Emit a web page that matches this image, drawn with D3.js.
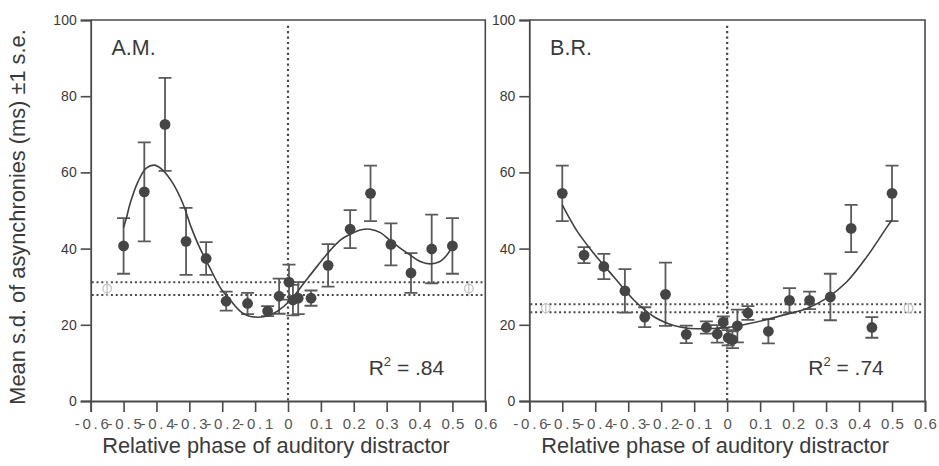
<!DOCTYPE html>
<html>
<head>
<meta charset="utf-8">
<script src="https://cdn.jsdelivr.net/npm/d3@7"></script>
<style>
  html, body { margin: 0; padding: 0; background: #fff; }
  svg { display: block; font-family: "Liberation Sans", Arial, Helvetica, sans-serif; }
</style>
</head>
<body>
<svg id="chart" width="939" height="466"></svg>
<script>
// ---------------- DATA ----------------
const xTicks = [-0.6, -0.5, -0.4, -0.3, -0.2, -0.1, 0, 0.1, 0.2, 0.3, 0.4, 0.5, 0.6];
const yTicks = [0, 20, 40, 60, 80, 100];

// Subject A.M.
const amPhase = [-0.5, -0.437, -0.374, -0.310, -0.249, -0.188, -0.123, -0.062, -0.027, 0.003, 0.015, 0.031, 0.070, 0.122, 0.189, 0.251, 0.313, 0.374, 0.437, 0.5];
const amMean  = [40.7, 54.9, 72.6, 41.9, 37.4, 26.2, 25.6, 23.6, 27.5, 31.2, 26.5, 27.0, 27.0, 35.6, 45.1, 54.5, 41.1, 33.6, 39.9, 40.7];
const amSE    = [7.3, 13.0, 12.2, 8.8, 4.3, 2.5, 2.8, 1.3, 4.6, 4.6, 4.0, 4.2, 2.0, 5.6, 5.0, 7.3, 5.5, 5.2, 9.0, 7.3];
const amFitPhase = [-0.5, -0.49, -0.48, -0.456, -0.431, -0.406, -0.381, -0.35, -0.32, -0.295, -0.27, -0.239, -0.204, -0.174, -0.143, -0.12, -0.09, -0.06, -0.032, 0.008, 0.048, 0.089, 0.129, 0.16, 0.19, 0.22, 0.25, 0.281, 0.311, 0.341, 0.372, 0.402, 0.432, 0.462, 0.485, 0.5];
const amFitValue = [45.5, 48.5, 51.9, 57.6, 61.1, 61.9, 60.6, 57.1, 51.9, 45.7, 40.5, 35.2, 29.5, 26.3, 23.4, 22.3, 22.0, 22.4, 23.6, 26.5, 30.9, 35.4, 39.6, 42.3, 43.8, 44.9, 45.1, 44.2, 42.1, 40.1, 38.3, 36.6, 36.0, 36.6, 38.5, 40.8];
const amBaselineMean = 29.5;
const amBaselineSE = 1.7;
const amR2 = ".84";

// Subject B.R.
const brPhase = [-0.5, -0.434, -0.374, -0.310, -0.250, -0.187, -0.124, -0.063, -0.030, -0.012, 0.003, 0.016, 0.031, 0.063, 0.125, 0.189, 0.250, 0.313, 0.376, 0.439, 0.5];
const brMean  = [54.5, 38.3, 35.3, 28.9, 22.0, 28.0, 17.5, 19.3, 17.6, 20.7, 16.6, 16.1, 19.7, 23.1, 18.3, 26.4, 26.4, 27.3, 45.3, 19.3, 54.5];
const brSE    = [7.3, 2.1, 3.3, 5.7, 2.6, 8.3, 2.3, 1.6, 2.3, 1.5, 2.0, 2.2, 4.3, 1.8, 3.2, 3.2, 2.3, 6.1, 6.2, 2.7, 7.3];
const brFitPhase = [-0.5, -0.475, -0.455, -0.405, -0.344, -0.283, -0.222, -0.162, -0.12, -0.06, 0.0, 0.06, 0.121, 0.182, 0.242, 0.302, 0.363, 0.424, 0.485, 0.5];
const brFitValue = [51.5, 47.5, 44.6, 38.8, 32.6, 26.5, 22.1, 19.8, 19.1, 19.0, 19.3, 20.2, 21.4, 22.8, 24.3, 27.0, 31.3, 37.9, 45.7, 47.5];
const brBaselineMean = 24.35;
const brBaselineSE = 1.05;
const brR2 = ".74";

const panelNames = ["A.M.", "B.R."];
const yTitle = "Mean s.d. of asynchronies (ms) \u00b11 s.e.";
const xTitle = "Relative phase of auditory distractor";

// ---------------- LAYOUT ----------------
const svg = d3.select("#chart");
const plotTop = 20, plotBottom = 401;
const panels = [
  { name: panelNames[0], x0: 90.7, x1: 485.3, phase: amPhase, mean: amMean, se: amSE,
    fitX: amFitPhase, fitY: amFitValue, bm: amBaselineMean, bse: amBaselineSE, r2: amR2 },
  { name: panelNames[1], x0: 529.3, x1: 925, phase: brPhase, mean: brMean, se: brSE,
    fitX: brFitPhase, fitY: brFitValue, bm: brBaselineMean, bse: brBaselineSE, r2: brR2 }
];

const axisColor = "#4a4a4a";
const textColor = "#3a3a3a";
const pointColor = "#454545";
const barColor = "#5a5a5a";

const y = d3.scaleLinear().domain([0, 100]).range([plotBottom, plotTop]);

panels.forEach(p => {
  const x = d3.scaleLinear().domain([-0.6, 0.6]).range([p.x0, p.x1]);
  const g = svg.append("g");

  // frame (top & right)
  g.append("path")
    .attr("d", `M${p.x0},${plotTop}H${p.x1}V${plotBottom}`)
    .attr("fill", "none").attr("stroke", axisColor).attr("stroke-width", 1.6);

  // y axis
  const yAxis = g.append("g").attr("transform", `translate(${p.x0},0)`)
    .call(d3.axisLeft(y).tickValues(yTicks).tickSize(10).tickPadding(4).tickFormat(d3.format("d")));
  yAxis.select(".domain").attr("stroke", axisColor).attr("stroke-width", 1.8);
  yAxis.selectAll(".tick line").attr("stroke", axisColor).attr("stroke-width", 1.6);
  yAxis.selectAll("text").attr("fill", textColor).attr("font-size", 14)
    .attr("font-family", "'Liberation Sans', Arial, sans-serif");

  // x axis
  const xAxis = g.append("g").attr("transform", `translate(0,${plotBottom})`)
    .call(d3.axisBottom(x).tickValues(xTicks).tickSize(11).tickPadding(6)
      .tickFormat(d => d === 0 ? "0" : d.toFixed(1)));
  xAxis.select(".domain").attr("stroke", axisColor).attr("stroke-width", 1.8);
  xAxis.selectAll(".tick line").attr("stroke", axisColor).attr("stroke-width", 1.6);
  xAxis.selectAll("text").attr("fill", "#555").attr("font-size", 15)
    .attr("letter-spacing", d => d < 0 ? "2.8px" : "1px")
    .attr("dx", d => d < 0 ? "2" : "0.5")
    .attr("font-family", "'Liberation Sans', Arial, sans-serif");

  // vertical dotted line at phase 0
  g.append("line")
    .attr("x1", x(0)).attr("x2", x(0)).attr("y1", y(98.5)).attr("y2", plotBottom)
    .attr("stroke", "#484848").attr("stroke-width", 2.2).attr("stroke-dasharray", "2.2,3.2");

  // horizontal dotted baseline lines (mean ± se of no-distractor condition)
  [p.bm - p.bse, p.bm + p.bse].forEach(v => {
    g.append("line")
      .attr("x1", p.x0 + 1).attr("x2", p.x1 - 2).attr("y1", y(v)).attr("y2", y(v))
      .attr("stroke", "#484848").attr("stroke-width", 2).attr("stroke-dasharray", "2,2.8");
  });

  // baseline symbols at phase ±0.55
  [-0.55, 0.55].forEach(ph => {
    g.append("circle").attr("cx", x(ph)).attr("cy", y(p.bm)).attr("r", 4.3)
      .attr("fill", "#fff").attr("stroke", "#c4c4c4").attr("stroke-width", 1.3);
    g.append("line")
      .attr("x1", x(ph)).attr("x2", x(ph))
      .attr("y1", y(p.bm + p.bse + 0.3)).attr("y2", y(p.bm - p.bse - 0.3))
      .attr("stroke", "#c4c4c4").attr("stroke-width", 1.3);
  });

  const pts = p.phase.map((ph, i) => ({ ph, m: p.mean[i], se: p.se[i] }));

  // error bars
  const eb = g.append("g").attr("stroke", barColor).attr("stroke-width", 1.8).attr("fill", "none");
  pts.forEach(d => {
    const cx = x(d.ph), yt = y(d.m + d.se), yb = y(d.m - d.se);
    eb.append("path").attr("d",
      `M${cx},${yt}V${yb}M${cx - 6.5},${yt}H${cx + 6.5}M${cx - 6.5},${yb}H${cx + 6.5}`);
  });

  // fitted curve
  const fit = p.fitX.map((fx, i) => [fx, p.fitY[i]]);
  g.append("path").datum(fit)
    .attr("d", d3.line().x(d => x(d[0])).y(d => y(d[1])).curve(d3.curveCatmullRom.alpha(0.5)))
    .attr("fill", "none").attr("stroke", "#3f3f3f").attr("stroke-width", 1.6);

  // points
  g.selectAll("circle.pt").data(pts).enter().append("circle")
    .attr("class", "pt")
    .attr("cx", d => x(d.ph)).attr("cy", d => y(d.m)).attr("r", 5.4)
    .attr("fill", pointColor);

  // panel label
  g.append("text").attr("x", x(-0.537)).attr("y", y(90.8))
    .attr("font-size", 21.5).attr("fill", textColor).text(p.name);

  // R² label
  const r = g.append("text").attr("x", x(0.475)).attr("y", y(6.8))
    .attr("text-anchor", "end").attr("font-size", 21).attr("fill", textColor);
  r.append("tspan").text("R");
  r.append("tspan").attr("font-size", 13).attr("dy", -9).text("2");
  r.append("tspan").attr("dy", 9).text(" = " + p.r2);

  // x title
  g.append("text").attr("x", (p.x0 + p.x1) / 2 - 12).attr("y", 453)
    .attr("text-anchor", "middle").attr("font-size", 21.8).attr("fill", textColor)
    .text(xTitle);
});

// y title
svg.append("text")
  .attr("transform", "translate(25,217) rotate(-90)")
  .attr("text-anchor", "middle").attr("font-size", 21.8).attr("fill", textColor)
  .text(yTitle);
</script>
</body>
</html>
